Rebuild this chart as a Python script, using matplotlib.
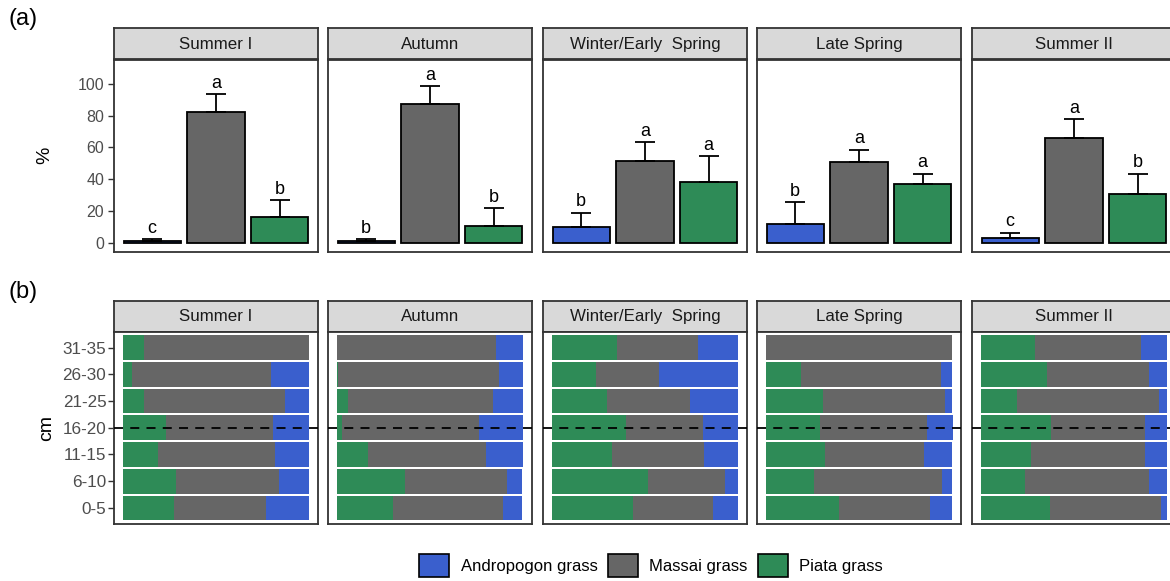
import numpy as np
import matplotlib
matplotlib.use("Agg")
from matplotlib import pyplot as plt
from matplotlib.patches import Patch

plt.rcParams['font.family'] = ['Liberation Sans', 'DejaVu Sans']

seasons = ["Summer I", "Autumn", "Winter/Early  Spring", "Late Spring", "Summer II"]
grasses = ["Andropogon grass", "Massai grass", "Piata grass"]
colors = ["#3A5FCD", "#666666", "#2E8B57"]

# (a) mean cover (%) and upper error, per season: Andropogon, Massai, Piata
mean_andropogon = [1.0, 1.0, 10.1, 11.8, 3.1]
mean_massai = [82.2, 87.4, 51.4, 50.8, 66.0]
mean_piata = [16.4, 10.9, 38.2, 37.1, 30.8]
err_andropogon = [1.5, 1.3, 9.0, 13.8, 3.4]
err_massai = [11.3, 11.3, 12.1, 7.7, 11.8]
err_piata = [10.4, 10.9, 16.5, 6.5, 12.8]
letters = [["c", "a", "b"], ["b", "a", "b"], ["b", "a", "a"], ["b", "a", "a"], ["c", "a", "b"]]

# (b) share (%) in each depth layer, bottom (0-5) to top (31-35)
depths = ["0-5", "6-10", "11-15", "16-20", "21-25", "26-30", "31-35"]
piata_b = [
    [27.1, 28.5, 18.8, 22.8, 11.3, 4.8, 11.3],
    [29.9, 36.4, 16.4, 2.7, 5.7, 0.4, 0.0],
    [43.7, 51.6, 32.3, 39.8, 29.6, 23.8, 34.9],
    [39.1, 25.6, 31.7, 29.0, 30.6, 18.8, 0.0],
    [36.9, 23.7, 26.9, 37.6, 19.4, 35.5, 28.9],
]
massai_b = [
    [49.6, 55.4, 62.9, 57.8, 75.8, 75.1, 88.7],
    [59.2, 54.9, 63.8, 73.8, 78.3, 86.8, 85.6],
    [43.2, 41.4, 49.4, 41.6, 44.6, 33.9, 43.6],
    [49.1, 69.0, 53.3, 57.9, 65.6, 75.3, 100.0],
    [59.9, 67.0, 61.3, 50.6, 76.3, 54.8, 57.1],
]
andro_b = [
    [23.3, 16.1, 18.3, 19.4, 12.9, 20.1, 0.0],
    [10.3, 8.2, 19.8, 23.5, 16.0, 12.8, 14.4],
    [13.1, 7.0, 18.3, 18.6, 25.8, 42.3, 21.5],
    [11.8, 5.4, 15.0, 13.6, 3.8, 5.9, 0.0],
    [3.2, 9.3, 11.8, 11.8, 4.3, 9.7, 14.0],
]

W, H = 1170, 581
fig = plt.figure(figsize=(W / 100, H / 100), dpi=100)

lefts = [114, 328, 543, 757, 972]
pw = 204
strip_h = 31


def px_axes(x0, y0, w, h):
    return fig.add_axes([x0 / W, 1 - (y0 + h) / H, w / W, h / H])


def style_panel(ax, size, pad):
    for s in ax.spines.values():
        s.set_color("#333333")
        s.set_linewidth(1.3)
    ax.tick_params(axis='y', length=4, width=1, color="#333333",
                   labelcolor="#4D4D4D", labelsize=size, pad=pad)
    ax.tick_params(axis='x', bottom=False, labelbottom=False)


def strip(x0, y0, label):
    s = px_axes(x0, y0, pw, strip_h)
    s.set_facecolor("#D9D9D9")
    s.set_xticks([])
    s.set_yticks([])
    for sp in s.spines.values():
        sp.set_color("#333333")
        sp.set_linewidth(1.3)
    s.text(0.5, 0.47, label, ha='center', va='center', fontsize=12.2, color="#1A1A1A",
           transform=s.transAxes)


means = np.array([mean_andropogon, mean_massai, mean_piata]).T
errs = np.array([err_andropogon, err_massai, err_piata]).T
xpos = np.arange(3)

# panel (a)
for i, season in enumerate(seasons):
    strip(lefts[i], 28, season)
    ax = px_axes(lefts[i], 60, pw, 192)
    ax.bar(xpos, means[i], width=0.9, color=colors, edgecolor="black", linewidth=1.3, zorder=2)
    ax.errorbar(xpos, means[i], yerr=[np.zeros(3), errs[i]], fmt='none', ecolor="black",
                elinewidth=1.3, capsize=7, capthick=1.3, zorder=3)
    for j in range(3):
        ax.text(xpos[j], means[i][j] + errs[i][j] + 1.5, letters[i][j], ha='center', va='bottom',
                fontsize=13, color="black")
    ax.set_xlim(-0.6, 2.6)
    ax.set_ylim(-5.7, 115)
    ax.set_yticks([0, 20, 40, 60, 80, 100])
    style_panel(ax, 11.5, 3)
    if i > 0:
        ax.tick_params(axis='y', left=False, labelleft=False)

# panel (b)
ypos = np.arange(len(depths))
for i, season in enumerate(seasons):
    strip(lefts[i], 300.5, season)
    ax = px_axes(lefts[i], 331.5, pw, 192.5)
    p = np.array(piata_b[i])
    m = np.array(massai_b[i])
    a = np.array(andro_b[i])
    ax.barh(ypos, p, height=0.93, color=colors[2], zorder=2)
    ax.barh(ypos, m, left=p, height=0.93, color=colors[1], zorder=2)
    ax.barh(ypos, a, left=p + m, height=0.93, color=colors[0], zorder=2)
    ax.axhline(depths.index("16-20"), color="black", linestyle=(0, (5, 4)), linewidth=1.3, zorder=3)
    ax.set_xlim(-5, 105)
    ax.set_ylim(-0.6, 6.6)
    ax.set_yticks(ypos)
    ax.set_yticklabels(depths)
    style_panel(ax, 12.3, 1.5)
    if i > 0:
        ax.tick_params(axis='y', left=False, labelleft=False)

fig.text(45 / W, 1 - 155 / H, "%", fontsize=14, rotation=90, ha='center', va='center')
fig.text(46.5 / W, 1 - 428 / H, "cm", fontsize=14, rotation=90, ha='center', va='center')
fig.text(8 / W, 1 - 19 / H, "(a)", fontsize=17, ha='left', va='center')
fig.text(8 / W, 1 - 292 / H, "(b)", fontsize=17, ha='left', va='center')

handles = [Patch(facecolor=c, edgecolor="black", linewidth=1.2) for c in colors]
fig.legend(handles, grasses, loc='center', bbox_to_anchor=(651 / W, 1 - 565.5 / H), ncol=3,
           frameon=False, fontsize=12, handlelength=1.8, handleheight=1.75,
           handletextpad=0.7, columnspacing=0.6, borderpad=0)

fig.savefig("out.png", dpi=100)
